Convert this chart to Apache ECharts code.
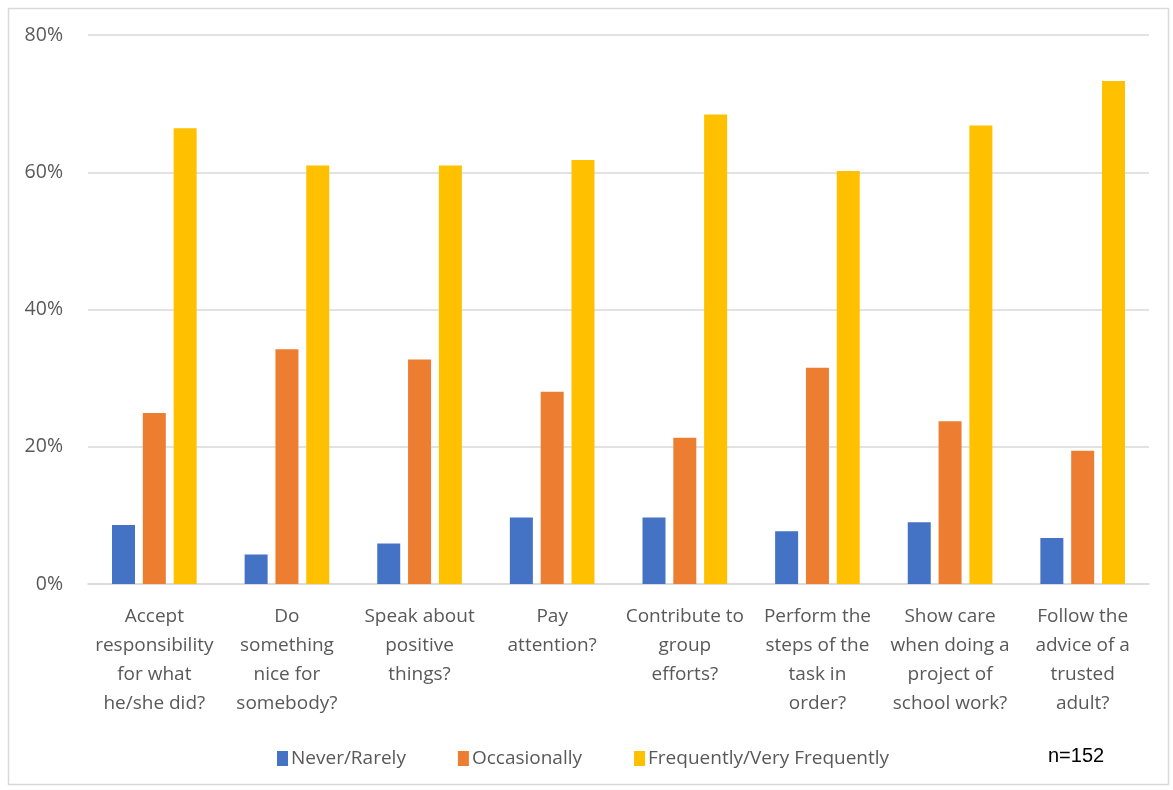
<!DOCTYPE html>
<html>
<head>
<meta charset="utf-8">
<script src="https://cdn.jsdelivr.net/npm/echarts@6/dist/echarts.min.js"></script>
<style>
  html, body { margin: 0; padding: 0; background: #fff; }
  #chart { width: 1173px; height: 790px; }
</style>
</head>
<body>
<div id="chart"></div>
<script>
// Survey items (category axis labels, wrapped as displayed)
const categories = [
  'Accept\nresponsibility\nfor what\nhe/she did?',
  'Do\nsomething\nnice for\nsomebody?',
  'Speak about\npositive\nthings?',
  'Pay\nattention?',
  'Contribute to\ngroup\nefforts?',
  'Perform the\nsteps of the\ntask in\norder?',
  'Show care\nwhen doing a\nproject of\nschool work?',
  'Follow the\nadvice of a\ntrusted\nadult?'
];

// Share of respondents per answer (percent)
const neverRarely   = [8.6, 4.3, 5.9, 9.7, 9.7, 7.7, 9.0, 6.7];
const occasionally  = [24.9, 34.2, 32.7, 28.0, 21.3, 31.5, 23.7, 19.4];
const frequently    = [66.4, 61.0, 61.0, 61.8, 68.4, 60.2, 66.8, 73.3];

const seriesNames = ['Never/Rarely', 'Occasionally', 'Frequently/Very Frequently'];
const sampleNote = 'n=152';

const yTicks = { min: 0, max: 80, interval: 20 };

const chart = echarts.init(document.getElementById('chart'), null, { renderer: 'canvas' });

const labelFont = '"Open Sans", Lato, sans-serif';

function barSeries(name, data, color) {
  return {
    name: name,
    type: 'bar',
    data: data,
    barWidth: 23,
    barGap: '34%',
    itemStyle: { color: color },
    emphasis: { disabled: true }
  };
}

chart.setOption({
  animation: false,
  backgroundColor: '#fff',
  color: ['#4472C4', '#ED7D31', '#FFC000'],
  grid: { left: 88, right: 24, top: 35, bottom: 206, containLabel: false },
  legend: {
    data: seriesNames,
    left: 272,
    top: 744,
    itemWidth: 11,
    itemHeight: 15,
    itemGap: 52,
    icon: 'rect',
    textStyle: { fontFamily: labelFont, fontSize: 19, color: '#595959', padding: [0, 0, 0, -2] }
  },
  xAxis: {
    type: 'category',
    data: categories,
    axisLine: { show: true, lineStyle: { color: '#d9d9d9', width: 1.5 } },
    axisTick: { show: false },
    axisLabel: {
      interval: 0,
      margin: 18,
      fontFamily: labelFont,
      fontSize: 19,
      lineHeight: 29,
      color: '#595959',
      align: 'center'
    }
  },
  yAxis: {
    type: 'value',
    min: yTicks.min,
    max: yTicks.max,
    interval: yTicks.interval,
    axisLine: { show: false },
    axisTick: { show: false },
    splitLine: { lineStyle: { color: '#d9d9d9', width: 1.5 } },
    axisLabel: {
      formatter: '{value}%',
      margin: 25,
      fontFamily: labelFont,
      fontSize: 19.5,
      color: '#595959'
    }
  },
  graphic: [
    {
      type: 'rect',
      shape: { x: 8.5, y: 8.5, width: 1160, height: 776 },
      style: { fill: 'none', stroke: '#d9d9d9', lineWidth: 1.5 },
      silent: true
    },
    {
      type: 'text',
      left: 1048,
      top: 746,
      style: { text: sampleNote, fontFamily: 'Liberation Sans, Arial, sans-serif', fontSize: 20, fill: '#000' },
      silent: true
    }
  ],
  series: [
    barSeries(seriesNames[0], neverRarely, '#4472C4'),
    barSeries(seriesNames[1], occasionally, '#ED7D31'),
    barSeries(seriesNames[2], frequently, '#FFC000')
  ]
});
</script>
</body>
</html>
